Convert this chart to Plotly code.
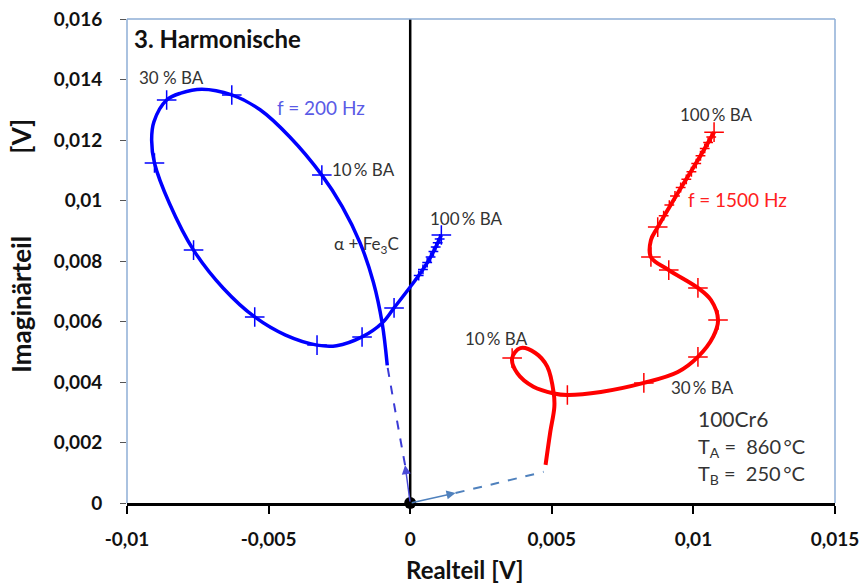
import plotly.graph_objects as go

# --- 200 Hz locus (Realteil / Imaginärteil in V) ---
blue_x = [-0.00081, -0.00099, -0.00130, -0.00177, -0.00240, -0.00312, -0.00425, -0.00530,
          -0.00630, -0.00736, -0.00810, -0.00860, -0.00905, -0.00913, -0.00903, -0.00850,
          -0.00765, -0.00660, -0.00549, -0.00440, -0.00329, -0.00260, -0.00170, -0.00099,
          -0.00057, 0.00000, 0.00040, 0.00075, 0.00110]
blue_y = [0.00455, 0.00595, 0.00730, 0.00860, 0.00980, 0.01084, 0.01210, 0.01300,
          0.01349, 0.01368, 0.01355, 0.01332, 0.01260, 0.01200, 0.01124, 0.00990,
          0.00836, 0.00710, 0.00615, 0.00555, 0.00522, 0.00520, 0.00549, 0.00595,
          0.00645, 0.00714, 0.00765, 0.00818, 0.00886]
# measuring points
blue_mx = [-0.00312, -0.00630, -0.00860, -0.00903, -0.00765, -0.00549, -0.00329, -0.00170,
           -0.00057, 0.00110]
blue_my = [0.01084, 0.01349, 0.01332, 0.01124, 0.00836, 0.00615, 0.00522, 0.00549,
           0.00645, 0.00886]
# closely spaced points towards 100 % BA
blue_fx = [0.00030, 0.00045, 0.00060, 0.00072, 0.00082, 0.00090, 0.00097, 0.00104]
blue_fy = [0.00752, 0.00772, 0.00795, 0.00813, 0.00831, 0.00846, 0.00860, 0.00873]

# --- 1500 Hz locus ---
red_x = [0.00478, 0.00494, 0.00509, 0.00507, 0.00484, 0.00442, 0.00389, 0.00360,
         0.00378, 0.00435, 0.00507, 0.00555, 0.00673, 0.00825, 0.00945, 0.01016,
         0.01070, 0.01087, 0.01062, 0.01016, 0.00913, 0.00850, 0.00850, 0.00874,
         0.00945, 0.01016, 0.01073]
red_y = [0.00126, 0.00231, 0.00318, 0.00362, 0.00451, 0.00496, 0.00512, 0.00479,
         0.00429, 0.00384, 0.00362, 0.00357, 0.00367, 0.00397, 0.00433, 0.00483,
         0.00550, 0.00605, 0.00671, 0.00711, 0.00770, 0.00813, 0.00869, 0.00912,
         0.01025, 0.01134, 0.01226]
red_mx = [0.00360, 0.00555, 0.00825, 0.01016, 0.01087, 0.01016, 0.00913, 0.00850,
          0.00874, 0.01073]
red_my = [0.00479, 0.00357, 0.00397, 0.00483, 0.00605, 0.00711, 0.00770, 0.00813,
          0.00912, 0.01226]
red_fx = [0.00895, 0.00915, 0.00935, 0.00955, 0.00975, 0.00993, 0.01010, 0.01025,
          0.01040, 0.01052, 0.01063]
red_fy = [0.00950, 0.00985, 0.01015, 0.01043, 0.01070, 0.01095, 0.01122, 0.01148,
          0.01172, 0.01192, 0.01210]

# transitions from the origin (dashed)
blue_dash_x = [-0.00018, -0.00050, -0.00081]
blue_dash_y = [0.00125, 0.00290, 0.00455]
red_dash_x = [0.00160, 0.00308, 0.00471]
red_dash_y = [0.00033, 0.00066, 0.00103]

x_ticks = [-0.01, -0.005, 0, 0.005, 0.01, 0.015]
x_ticktext = ["-0,01", "-0,005", "0", "0,005", "0,01", "0,015"]
y_ticks = [0, 0.002, 0.004, 0.006, 0.008, 0.010, 0.012, 0.014, 0.016]
y_ticktext = ["0", "0,002", "0,004", "0,006", "0,008", "0,01", "0,012", "0,014", "0,016"]

FONT = "Lato"
BLUE = "#0000FF"
RED = "#FF0000"

fig = go.Figure()

fig.add_trace(go.Scatter(x=blue_dash_x, y=blue_dash_y, mode="lines",
                         line=dict(color="#3B3BD6", width=2, dash="dash", shape="spline"),
                         hoverinfo="skip"))
fig.add_trace(go.Scatter(x=red_dash_x, y=red_dash_y, mode="lines",
                         line=dict(color="#4F81BD", width=2, dash="dash", shape="spline"),
                         hoverinfo="skip"))

fig.add_trace(go.Scatter(x=blue_x, y=blue_y, mode="lines",
                         line=dict(color=BLUE, width=3.5, shape="spline", smoothing=1.0)))
fig.add_trace(go.Scatter(x=blue_mx, y=blue_my, mode="markers",
                         marker=dict(symbol="cross-thin", size=14,
                                     line=dict(width=1.5, color=BLUE))))
fig.add_trace(go.Scatter(x=blue_fx, y=blue_fy, mode="markers",
                         marker=dict(symbol="cross-thin", size=7,
                                     line=dict(width=1.5, color=BLUE))))
fig.add_trace(go.Scatter(x=red_x, y=red_y, mode="lines",
                         line=dict(color=RED, width=4, shape="spline", smoothing=1.0)))
fig.add_trace(go.Scatter(x=red_mx, y=red_my, mode="markers",
                         marker=dict(symbol="cross-thin", size=14,
                                     line=dict(width=1.5, color=RED))))
fig.add_trace(go.Scatter(x=red_fx, y=red_fy, mode="markers",
                         marker=dict(symbol="cross-thin", size=7,
                                     line=dict(width=1.5, color=RED))))

# origin point
fig.add_trace(go.Scatter(x=[0], y=[0], mode="markers", cliponaxis=False,
                         marker=dict(color="black", size=12)))

# arrows leaving the origin
fig.add_annotation(x=blue_dash_x[0], y=blue_dash_y[0], ax=0, ay=0, axref="x", ayref="y",
                   xref="x", yref="y", text="", showarrow=True, arrowhead=2,
                   arrowsize=1.2, arrowwidth=1.5, arrowcolor="#4A4AD8")
fig.add_annotation(x=red_dash_x[0], y=red_dash_y[0], ax=0, ay=0, axref="x", ayref="y",
                   xref="x", yref="y", text="", showarrow=True, arrowhead=2,
                   arrowsize=1.2, arrowwidth=1.5, arrowcolor="#4F81BD")

# vertical zero line
fig.add_shape(type="line", x0=0, x1=0, y0=0, y1=0.016, xref="x", yref="y",
              line=dict(color="black", width=2.5), layer="below")
# frame: left, top, right
for (x0, y0, x1, y1) in [(0, 0, 0, 1), (0, 1, 1, 1), (1, 0, 1, 1)]:
    fig.add_shape(type="line", xref="paper", yref="paper", x0=x0, y0=y0, x1=x1, y1=y1,
                  line=dict(color="#8EAED6", width=1.5))

def label(x, y, text, color="#333333", size=17, bold=False):
    fig.add_annotation(x=x, y=y, xref="x", yref="y", text=text, showarrow=False,
                       xanchor="left", yanchor="middle",
                       font=dict(family=FONT, size=size, color=color,
                                 weight="bold" if bold else "normal"))

label(-0.00983, 0.01537, "3. Harmonische", color="#111111", size=24, bold=True)
label(-0.00963, 0.01405, "30 % BA")
label(-0.00478, 0.01309, "f = 200 Hz", color="#5A5AE6", size=19)
label(-0.00283, 0.01101, "10\u2009% BA")
label(-0.00276, 0.00853, "\u03b1 + Fe<sub>3</sub>C")
label(0.00064, 0.00942, "100\u2009% BA")
label(0.00945, 0.01283, "100\u2009% BA")
label(0.00973, 0.01002, "f = 1500 Hz", color="#FF2020", size=19)
label(0.00188, 0.00545, "10\u2009% BA")
label(0.00913, 0.00383, "30\u2009% BA")
label(0.01009, 0.00281, "100Cr6", size=21)
label(0.01009, 0.00185, "T<sub>A</sub> =\u00a0 860\u2009°C", size=20)
label(0.01009, 0.00093, "T<sub>B</sub> =\u00a0 250\u2009°C", size=20)

# axis titles
fig.add_annotation(x=0.476, y=-0.137, xref="paper", yref="paper", text="Realteil [V]",
                   xanchor="center", yanchor="middle", showarrow=False,
                   font=dict(family=FONT, size=24, color="#111111", weight="bold"))
fig.add_annotation(x=-0.150, y=0.531, xref="paper", yref="paper",
                   text="Imaginärteil" + "\u00a0" * 13 + "[V]",
                   xanchor="center", yanchor="middle",
                   textangle=-90, showarrow=False,
                   font=dict(family=FONT, size=26, color="#111111", weight="bold"))

fig.update_layout(
    width=860, height=583,
    margin=dict(l=127, r=25, t=19, b=80, autoexpand=False),
    paper_bgcolor="white", plot_bgcolor="white",
    showlegend=False,
    xaxis=dict(range=[-0.01, 0.015], tickvals=x_ticks, ticktext=x_ticktext,
               automargin=False,
               showgrid=False, zeroline=False, showline=True, linecolor="black",
               linewidth=2.5, ticks="outside", ticklen=8, tickwidth=1.5, tickcolor="black",
               ticklabelstandoff=9, ticklabeloverflow="allow",
               tickfont=dict(family=FONT, size=19, color="#111111", weight="bold")),
    yaxis=dict(range=[0, 0.016], tickvals=y_ticks, ticktext=y_ticktext,
               automargin=False,
               showgrid=False, zeroline=False, showline=False,
               ticks="outside", ticklen=6, tickwidth=1.2, tickcolor="#555555",
               ticklabelstandoff=14, ticklabeloverflow="allow",
               tickfont=dict(family=FONT, size=19, color="#111111", weight="bold")),
)

fig.write_html("out.html")
